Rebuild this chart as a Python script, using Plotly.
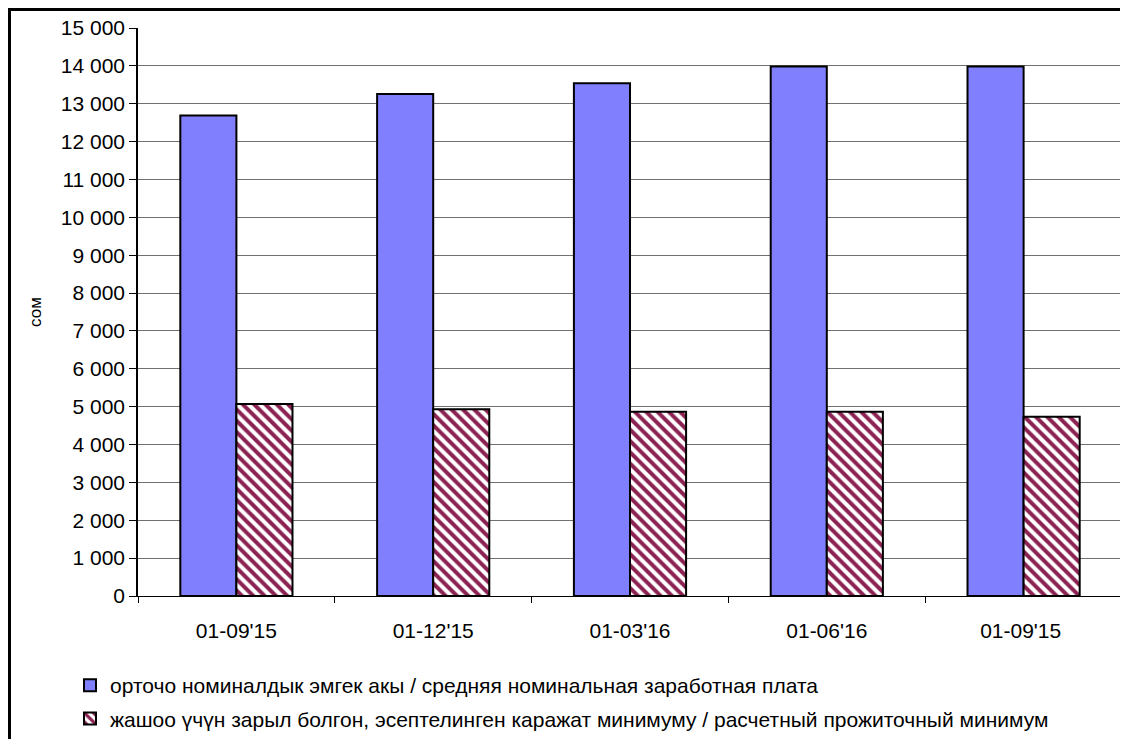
import plotly.graph_objects as go

categories = ["01-09'15", "01-12'15", "01-03'16", "01-06'16", "01-09'15 "]
wage = [12690, 13260, 13540, 13980, 13980]
minimum = [5070, 4930, 4865, 4865, 4735]
name_wage = "орточо номиналдык эмгек акы / средняя номинальная заработная плата"
name_min = "жашоо үчүн зарыл болгон, эсептелинген каражат минимуму / расчетный прожиточный минимум"
y_title = "сом"

W, H = 1120, 731
L, R, T, B = 130, 6, 20, 143
pw, ph = W - L - R, H - T - B

fig = go.Figure()
fig.add_trace(go.Bar(
    x=categories, y=wage, name=name_wage, legendgroup="a",
    marker=dict(color="#8080FF", line=dict(color="black", width=2)),
))
fig.add_trace(go.Bar(
    x=categories, y=minimum, name=name_min, legendgroup="b",
    marker=dict(color="white", line=dict(color="black", width=2),
                pattern=dict(shape="\\", fgcolor="#8B2252", bgcolor="white",
                             size=8, solidity=0.5, fgopacity=1, fillmode="overlay")),
))

fig.update_layout(
    width=W, height=H,
    margin=dict(l=L, r=R, t=T, b=B, autoexpand=False),
    paper_bgcolor="white", plot_bgcolor="white",
    font=dict(family="Liberation Sans, Arial", size=21, color="black"),
    separators=". ",
    barmode="group", bargap=0.43, bargroupgap=0,
    showlegend=True,
    legend=dict(orientation="v", xref="container", yref="container",
                x=62 / W, xanchor="left", y=1 - 657 / H, yanchor="top",
                font=dict(size=21), tracegroupgap=3, traceorder="grouped",
                itemwidth=30, bgcolor="rgba(0,0,0,0)"),
    xaxis=dict(showline=True, linecolor="black", linewidth=1, ticks="outside",
               tickson="boundaries", tickcolor="black", ticklen=6,
               tickfont=dict(size=21), ticklabelstandoff=16, showgrid=False),
    yaxis=dict(range=[0, 15000], dtick=1000, tickformat=",d", showline=True,
               linecolor="black", linewidth=1.5, ticks="outside", tickcolor="black",
               ticklen=7, showgrid=True, gridcolor="#707070", gridwidth=1,
               tickfont=dict(size=21), zeroline=False),
)
fig.add_annotation(text=y_title, xref="paper", yref="paper",
                   x=(27 - L) / pw, y=0.5, textangle=-90, showarrow=False,
                   font=dict(size=17), xanchor="center", yanchor="middle")
fig.add_shape(type="rect", xref="paper", yref="paper",
              x0=(1.5 - L) / pw, x1=1.2, y0=-0.5, y1=(T + ph - 1.5) / ph,
              line=dict(color="black", width=3), fillcolor="rgba(0,0,0,0)", layer="below")
fig.write_html("out.html")
